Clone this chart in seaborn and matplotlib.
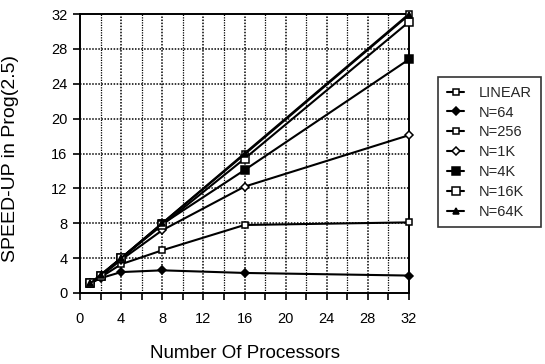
import matplotlib
matplotlib.use("Agg")
import matplotlib.pyplot as plt
import seaborn as sns
import pandas as pd

procs = [1, 2, 4, 8, 16, 32]
linear = [1, 2, 4, 8, 16, 32]
n64 = [1.1, 1.7, 2.4, 2.6, 2.3, 2.0]
n256 = [1.1, 1.8, 3.3, 4.9, 7.8, 8.1]
n1k = [1.1, 1.9, 3.8, 7.2, 12.2, 18.1]
n4k = [1.1, 2.0, 4.0, 7.9, 14.1, 26.8]
n16k = [1.1, 2.0, 4.0, 7.8, 15.4, 31.1]
n64k = [1.1, 2.1, 4.0, 8.0, 15.9, 31.9]

series_names = ["LINEAR", "N=64", "N=256", "N=1K", "N=4K", "N=16K", "N=64K"]
series_vals = [linear, n64, n256, n1k, n4k, n16k, n64k]

x_ticks = [0, 4, 8, 12, 16, 20, 24, 28, 32]
y_ticks = [0, 4, 8, 12, 16, 20, 24, 28, 32]

rows = []
for name, vals in zip(series_names, series_vals):
    for p, v in zip(procs, vals):
        rows.append({"procs": p, "speedup": v, "series": name})
df = pd.DataFrame(rows)

sns.set_theme(style="white")
plt.rcParams["font.family"] = ["Liberation Sans", "DejaVu Sans"]

styles = {
    "LINEAR": dict(marker="s", mfc="white", ms=4.5),
    "N=64": dict(marker="D", mfc="black", ms=4),
    "N=256": dict(marker="s", mfc="white", ms=5),
    "N=1K": dict(marker="D", mfc="white", ms=4),
    "N=4K": dict(marker="s", mfc="black", ms=6),
    "N=16K": dict(marker="s", mfc="white", ms=5.5),
    "N=64K": dict(marker="^", mfc="black", ms=5),
}

fig = plt.figure(figsize=(5.45, 3.64), dpi=100)
ax = fig.add_axes([80 / 545, 1 - 293 / 364, (409 - 80) / 545, (293 - 14) / 364])

# grid
for xv in range(2, 32, 2):
    ax.axvline(xv, color="black", lw=1.1 if xv % 4 == 0 else 0.9, ls=(0, (1, 1)), zorder=1)
for yv in range(4, 32, 4):
    ax.axhline(yv, color="black", lw=1.1, ls=(0, (1, 1)), zorder=1)

for name in series_names:
    st = styles[name]
    sub = df[df["series"] == name]
    sns.lineplot(data=sub, x="procs", y="speedup", ax=ax, color="black", lw=1.5,
                 marker=st["marker"], markerfacecolor=st["mfc"], markeredgecolor="black",
                 markersize=st["ms"], markeredgewidth=1.1, label=name, zorder=3,
                 clip_on=False)

ax.set_xlim(0, 32)
ax.set_ylim(0, 32)
ax.set_xticks(x_ticks)
ax.set_xticks(range(0, 33, 2), minor=True)
ax.set_yticks(y_ticks)
ax.set_xticklabels([str(t) for t in x_ticks])
ax.set_yticklabels([str(t) for t in y_ticks])
ax.tick_params(axis="both", which="major", direction="out", length=5, width=1.2,
               color="black", labelsize=10.5, labelcolor="black",
               bottom=True, left=True)
ax.tick_params(axis="x", which="major", pad=9)
ax.tick_params(axis="x", which="minor", direction="out", length=5, width=1.2,
               color="black", bottom=True)
ax.tick_params(axis="y", pad=4)
for sp in ax.spines.values():
    sp.set_color("black")
    sp.set_linewidth(1.4)
    sp.set_visible(True)

ax.set_xlabel("Number Of Processors", fontsize=13.5, color="black", va="center")
ax.set_ylabel("SPEED-UP in Prog(2.5)", fontsize=14, color="black", va="center")
ax.xaxis.set_label_coords((245 - 80) / 329, -(353 - 293) / 279)
ax.yaxis.set_label_coords(-(80 - 11) / 329, (293 - 158) / 279)

if ax.legend_:
    ax.legend_.remove()
handles, labels = ax.get_legend_handles_labels()
leg = fig.legend(handles, labels, loc="upper left",
                 bbox_to_anchor=(438 / 545, 1 - 77 / 364), frameon=True,
                 fancybox=False, edgecolor="black", fontsize=10.5,
                 handlelength=1.2, handletextpad=1.0, labelspacing=0.4,
                 borderpad=0.6, borderaxespad=0)
leg.get_frame().set_linewidth(1.2)

fig.savefig("out.png", dpi=100)
